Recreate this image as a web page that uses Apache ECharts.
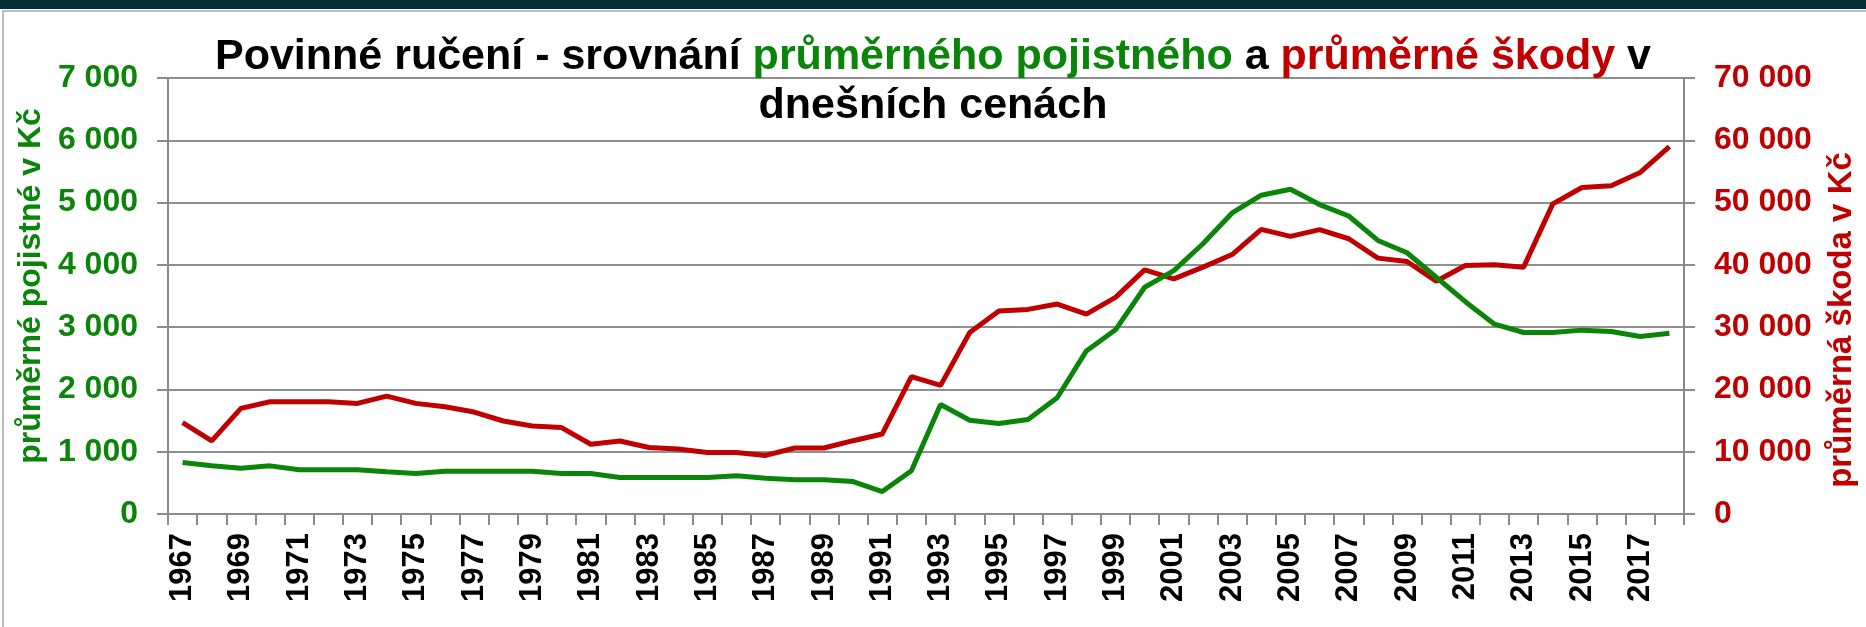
<!DOCTYPE html>
<html>
<head>
<meta charset="utf-8">
<script src="https://cdn.jsdelivr.net/npm/echarts@6/dist/echarts.min.js"></script>
<style>
  html, body { margin: 0; padding: 0; background: #fff; }
  #chart { width: 1866px; height: 627px; }
</style>
</head>
<body>
<div id="chart"></div>
<script>
// roky na ose x
var years = ['1967','1968','1969','1970','1971','1972','1973','1974','1975','1976',
    '1977','1978','1979','1980','1981','1982','1983','1984','1985','1986',
    '1987','1988','1989','1990','1991','1992','1993','1994','1995','1996',
    '1997','1998','1999','2000','2001','2002','2003','2004','2005','2006',
    '2007','2008','2009','2010','2011','2012','2013','2014','2015','2016',
    '2017','2018'];

// průměrné pojistné (levá osa)
var pojistne = [827, 773, 736, 773, 709, 709, 709, 677, 651, 688,
    688, 688, 688, 651, 651, 587, 587, 585, 585, 613,
    575, 548, 548, 521, 360, 694, 1758, 1505, 1452, 1516,
    1866, 2618, 2957, 3640, 3908, 4339, 4834, 5118, 5215, 4968,
    4785, 4392, 4194, 3801, 3409, 3048, 2914, 2914, 2952, 2930,
    2849, 2903];

// průměrná škoda (pravá osa)
var skoda = [14670, 11730, 16960, 18030, 18030, 18030, 17760, 18930, 17760, 17230,
    16370, 14930, 14130, 13870, 11200, 11730, 10670, 10440, 9890, 9890,
    9400, 10600, 10600, 11770, 12850, 22050, 20650, 29140, 32580, 32850,
    33710, 32100, 34790, 39190, 37740, 39630, 41660, 45700, 44570, 45650,
    44190, 41080, 40540, 37370, 39890, 40000, 39630, 49790, 52420, 52690,
    54840, 58980];

var GREEN = '#0a850a';
var RED = '#c00000';
var FONT = 'Liberation Sans, Arial, sans-serif';

function fmt(v) {
    return String(v).replace(/\B(?=(\d{3})+(?!\d))/g, ' ');
}

var myChart = echarts.init(document.getElementById('chart'));

var ts = { fontFamily: FONT, fontSize: 43, fontWeight: 'bold', lineHeight: 49 };

option = {
    backgroundColor: '#fff',
    animation: false,
    title: {
        left: 'center',
        top: 28,
        text: '{b|Povinné ručení - srovnání }{g|průměrného pojistného}{b| a }{r|průměrné škody}{b| v}\n{b|dnešních cenách}',
        textStyle: {
            fontFamily: FONT,
            fontSize: 43,
            fontWeight: 'bold',
            lineHeight: 49,
            rich: {
                b: Object.assign({ color: '#000' }, ts),
                g: Object.assign({ color: GREEN }, ts),
                r: Object.assign({ color: RED }, ts)
            }
        }
    },
    graphic: [
        { type: 'rect', shape: { x: 0, y: 0, width: 1866, height: 9 }, style: { fill: '#062e38' }, z: 100 },
        { type: 'rect', shape: { x: 3, y: 11, width: 1875, height: 630 }, style: { fill: null, stroke: '#bdbdbd', lineWidth: 2 } }
    ],
    grid: {
        left: 168,
        right: 167,
        top: 78,
        bottom: 113
    },
    xAxis: {
        type: 'category',
        data: years,
        boundaryGap: true,
        axisLine: { lineStyle: { color: '#8a8a8a', width: 2 } },
        axisTick: { show: true, interval: 0, length: 11, lineStyle: { color: '#8a8a8a', width: 2 } },
        axisLabel: {
            interval: 1,
            rotate: 90,
            margin: 19,
            color: '#000',
            fontFamily: FONT,
            fontSize: 31,
            fontWeight: 'bold'
        }
    },
    yAxis: [
        {
            type: 'value',
            min: 0,
            max: 7000,
            interval: 1000,
            position: 'left',
            name: 'průměrné pojistné v Kč',
            nameLocation: 'middle',
            nameGap: 120,
            nameTextStyle: { color: GREEN, fontFamily: FONT, fontSize: 32, fontWeight: 'bold', padding: [0, 0, 0, 20] },
            axisLine: { show: true, lineStyle: { color: '#8a8a8a', width: 2 } },
            axisTick: { show: true, length: 11, lineStyle: { color: '#8a8a8a', width: 2 } },
            axisLabel: {
                margin: 30,
                color: GREEN,
                fontFamily: FONT,
                fontSize: 32,
                fontWeight: 'bold',
                formatter: fmt
            },
            splitLine: { show: true, lineStyle: { color: '#8f8f8f', width: 2 } }
        },
        {
            type: 'value',
            min: 0,
            max: 70000,
            interval: 10000,
            position: 'right',
            name: 'průměrná škoda v Kč',
            nameLocation: 'middle',
            nameGap: 141,
            nameTextStyle: { color: RED, fontFamily: FONT, fontSize: 33, fontWeight: 'bold', padding: [0, 48, 0, 0] },
            axisLine: { show: true, lineStyle: { color: '#8a8a8a', width: 2 } },
            axisTick: { show: true, length: 11, lineStyle: { color: '#8a8a8a', width: 2 } },
            axisLabel: {
                margin: 30,
                color: RED,
                fontFamily: FONT,
                fontSize: 32,
                fontWeight: 'bold',
                formatter: fmt
            },
            splitLine: { show: false }
        }
    ],
    series: [
        {
            name: 'průměrná škoda',
            type: 'line',
            yAxisIndex: 1,
            data: skoda,
            symbol: 'none',
            lineStyle: { color: RED, width: 5 }
        },
        {
            name: 'průměrné pojistné',
            type: 'line',
            yAxisIndex: 0,
            data: pojistne,
            symbol: 'none',
            lineStyle: { color: GREEN, width: 5 }
        }
    ]
};

myChart.setOption(option);
</script>
</body>
</html>
